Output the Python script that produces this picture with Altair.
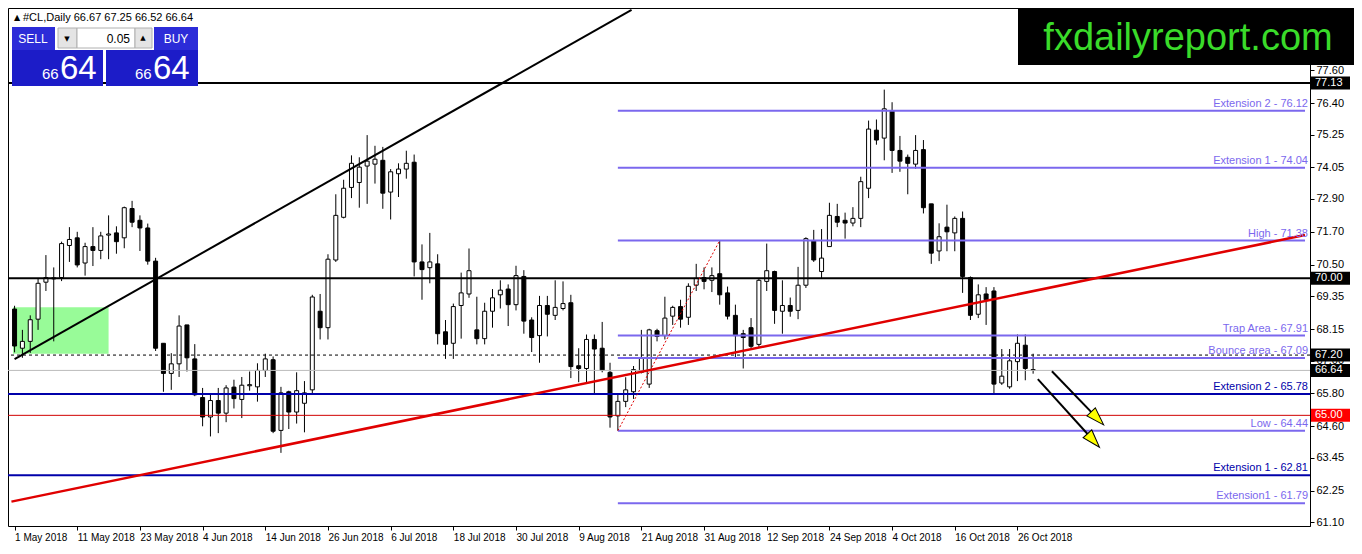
import altair as alt
import pandas as pd

# ---------------- data ----------------
opens = [68.88, 67.45, 67.70, 68.51, 69.86, 69.98, 70.03, 71.20, 71.48, 70.56,
         71.16, 71.02, 71.58, 71.66, 71.48, 72.55, 72.12, 71.84, 70.63, 67.63,
         66.53, 66.88, 68.30, 67.06, 65.65, 64.94, 65.54, 65.08, 66.03, 65.58,
         66.08, 66.04, 66.64, 67.03, 64.45, 65.86, 65.12, 65.44, 65.93, 68.80,
         68.20, 70.67, 72.23, 73.32, 73.50, 74.10, 74.17, 74.31, 73.15, 73.82,
         73.99, 74.24, 70.60, 70.39, 70.53, 68.05, 67.63, 69.01, 69.43, 68.12,
         67.80, 68.80, 69.40, 69.61, 69.04, 70.07, 68.48, 67.91, 69.01, 68.65,
         68.90, 69.11, 66.81, 66.71, 67.77, 67.45, 66.57, 64.98, 65.51, 65.86,
         66.57, 66.14, 68.09, 67.91, 68.62, 68.97, 68.58, 69.75, 70.03, 69.93,
         70.17, 69.47, 68.65, 67.98, 68.20, 67.59, 69.89, 70.25, 68.80, 69.01,
         68.83, 69.75, 71.38, 70.25, 71.16, 72.26, 72.12, 72.02, 72.19, 73.29,
         75.41, 75.12, 76.12, 74.67, 74.42, 74.17, 74.70, 72.72, 71.00, 71.87,
         71.66, 72.19, 70.03, 68.69, 69.43, 69.54, 66.18, 66.04, 66.96, 67.56,
         66.67]
highs = [69.00, 68.12, 68.65, 70.00, 70.85, 70.40, 71.34, 71.87, 71.70, 71.30,
         71.87, 71.70, 72.30, 71.90, 72.62, 72.83, 72.30, 72.00, 70.75, 67.63,
         67.27, 68.65, 68.30, 67.60, 66.00, 65.75, 66.00, 66.10, 66.30, 66.40,
         66.60, 66.90, 67.25, 67.15, 66.04, 65.90, 66.57, 66.25, 69.40, 69.43,
         70.88, 73.07, 73.60, 74.49, 74.42, 75.23, 74.84, 74.80, 73.99, 74.20,
         74.66, 74.52, 71.24, 71.66, 70.88, 68.48, 69.08, 70.21, 71.09, 69.33,
         69.11, 69.61, 69.93, 69.78, 70.46, 70.30, 68.58, 69.36, 69.36, 69.93,
         69.89, 69.40, 67.45, 67.95, 67.95, 68.41, 66.92, 65.75, 66.39, 66.80,
         68.12, 68.16, 68.16, 69.33, 69.00, 69.22, 69.82, 70.53, 70.40, 70.40,
         71.38, 69.70, 69.04, 68.12, 68.55, 70.00, 71.27, 70.28, 69.93, 69.30,
         70.42, 71.50, 71.77, 71.80, 72.76, 72.72, 72.40, 72.60, 73.71, 75.76,
         75.80, 76.89, 76.43, 75.20, 74.52, 75.23, 75.05, 72.72, 72.01, 72.69,
         72.26, 72.44, 70.07, 69.78, 69.68, 69.68, 67.42, 67.42, 67.95, 67.95,
         67.25]
lows = [67.30, 67.10, 67.28, 68.12, 69.54, 67.70, 69.90, 70.60, 70.40, 70.10,
        70.45, 70.70, 70.70, 70.90, 71.10, 71.87, 71.00, 70.50, 67.35, 65.86,
        65.93, 66.40, 66.60, 65.70, 64.60, 64.23, 64.35, 64.75, 65.25, 64.90,
        65.90, 65.50, 66.40, 64.35, 63.63, 64.50, 64.70, 64.38, 65.75, 67.77,
        67.77, 70.60, 72.19, 72.93, 72.58, 72.72, 73.46, 72.54, 72.15, 72.97,
        73.64, 70.07, 69.22, 69.82, 67.59, 67.06, 67.06, 67.80, 69.29, 67.59,
        67.59, 68.20, 68.90, 68.26, 68.83, 67.98, 67.31, 66.92, 67.88, 68.48,
        68.83, 66.36, 66.21, 66.21, 65.75, 66.57, 64.55, 64.44, 65.30, 65.60,
        66.53, 66.00, 67.70, 67.77, 68.30, 68.20, 68.30, 69.54, 69.60, 69.50,
        69.04, 68.50, 67.06, 66.71, 67.45, 67.50, 69.54, 68.34, 67.98, 68.60,
        68.51, 69.65, 70.60, 70.00, 71.16, 71.87, 71.45, 71.90, 71.87, 72.93,
        74.88, 74.31, 73.85, 73.89, 73.07, 74.00, 72.37, 70.53, 70.63, 70.99,
        70.99, 69.47, 68.48, 68.55, 68.30, 65.79, 66.11, 65.97, 66.25, 66.28,
        66.52]
closes = [67.53, 67.70, 68.49, 69.82, 70.03, 70.02, 71.27, 71.42, 70.49, 71.16,
          71.02, 71.55, 71.62, 71.34, 72.58, 72.05, 71.84, 70.63, 67.45, 66.53,
          66.88, 68.26, 67.10, 65.75, 64.94, 65.54, 65.08, 66.00, 65.61, 66.10,
          66.12, 66.64, 67.06, 64.42, 65.82, 65.12, 65.90, 65.82, 69.32, 68.20,
          70.70, 72.30, 73.29, 74.20, 74.06, 74.28, 74.35, 73.11, 73.89, 73.99,
          74.20, 70.60, 70.32, 70.60, 67.98, 67.59, 68.97, 69.47, 70.28, 67.80,
          68.80, 69.29, 69.57, 69.04, 70.10, 68.44, 67.84, 69.01, 68.69, 68.94,
          69.08, 66.78, 66.71, 67.77, 67.42, 66.64, 64.94, 65.51, 65.93, 66.67,
          67.10, 68.12, 67.88, 68.55, 68.94, 68.51, 69.71, 70.00, 69.89, 70.10,
          69.40, 68.62, 67.91, 67.84, 67.52, 69.93, 70.28, 68.83, 69.01, 68.80,
          69.75, 71.45, 70.67, 70.74, 72.30, 72.05, 72.02, 72.19, 73.53, 75.45,
          75.05, 76.19, 74.67, 74.28, 74.20, 74.67, 72.58, 70.92, 71.52, 71.70,
          72.19, 70.07, 68.65, 69.40, 69.22, 66.14, 66.43, 66.99, 67.63, 66.71,
          66.64]
bars = list(range(len(opens)))

tick_bars = [0, 8, 16, 24, 32, 40, 48, 56, 64, 72, 80, 88, 96, 104, 112, 120, 128]
tick_labels = ["1 May 2018", "11 May 2018", "23 May 2018", "4 Jun 2018", "14 Jun 2018",
               "26 Jun 2018", "6 Jul 2018", "18 Jul 2018", "30 Jul 2018", "9 Aug 2018",
               "21 Aug 2018", "31 Aug 2018", "12 Sep 2018", "24 Sep 2018", "4 Oct 2018",
               "16 Oct 2018", "26 Oct 2018"]
price_ticks = [61.10, 62.25, 63.45, 64.60, 65.80, 67.00, 68.15, 69.35, 70.50,
               71.70, 72.90, 74.05, 75.25, 76.40, 77.60]

black_levels = [77.13, 70.00]
dash_levels = [67.20]
bid_levels = [66.64]
blue_levels = [65.78, 62.81]
blue_labels = ["Extension 2 - 65.78", "Extension 1 - 62.81"]
red_levels = [65.00]
fib_start_bar = 77
fib_levels = [76.12, 74.04, 71.38, 67.91, 67.09, 64.44, 61.79]
fib_labels = ["Extension 2 - 76.12", "Extension 1 - 74.04", "High - 71.38",
              "Trap Area - 67.91", "Bounce area - 67.09", "Low - 64.44",
              "Extension1 - 61.79"]

black_trend_bars = [0, 78.75]
black_trend_prices = [67.05, 79.80]
red_trend_bars = [-0.4, 164.7]
red_trend_prices = [61.85, 71.58]
swing_bars = [77, 90]
swing_prices = [64.44, 71.38]

zone_bars = [-0.2, 12]
zone_prices = [68.95, 67.25]

arrow_start_bars = [132.4, 130.6]
arrow_start_prices = [66.61, 66.32]
arrow_end_bars = [138.2, 137.7]
arrow_end_prices = [64.89, 64.08]
arrow_angles = [136, 138]

black_tags = [77.13, 70.00, 67.20, 66.64]
red_tags = [65.00]

# ---------------- layout ----------------
W, H = 1302, 518
X_DOMAIN = [-0.2, 164.7]
Y_DOMAIN = [60.96, 79.87]
FONT = "Tahoma, 'Liberation Sans', sans-serif"
ARROW_HEAD = "M0,-1 L0.65,1 L-0.65,1 Z"

xs = alt.Scale(domain=X_DOMAIN, nice=False, zero=False)
ys = alt.Scale(domain=Y_DOMAIN, nice=False, zero=False)

label_expr = "[" + ",".join("'%s'" % s for s in tick_labels) + "][round(datum.value/8)]"

x_axis = alt.Axis(values=tick_bars, labelExpr=label_expr, labelAlign="left", title=None,
                  grid=False, domain=False, tickSize=4, tickColor="black", labelPadding=2,
                  labelFont=FONT, labelFontSize=10, labelColor="black", labelOverlap=False,
                  labelFlush=False)
y_axis = alt.Axis(orient="right", values=price_ticks, format=".2f", title=None, grid=False,
                  domain=True, domainColor="black", tickSize=4, tickColor="black",
                  labelPadding=2, labelFont=FONT, labelFontSize=11, labelColor="black",
                  labelOverlap=False, labelFlush=False)


def X(field):
    return alt.X(field, scale=xs, axis=x_axis)


def Y(field):
    return alt.Y(field, scale=ys, axis=y_axis)


df = pd.DataFrame({"bar": bars, "open": opens, "high": highs, "low": lows, "close": closes})
df["dir"] = ["up" if c >= o else "down" for o, c in zip(opens, closes)]

one = pd.DataFrame({"a": [0]})

layers = []

# green zone
zone = pd.DataFrame({"x": [zone_bars[0]], "x2": [zone_bars[1]],
                     "y": [zone_prices[0]], "y2": [zone_prices[1]]})
layers.append(alt.Chart(zone).mark_rect(color="#98FB98").encode(
    x=X("x:Q"), x2="x2:Q", y=Y("y:Q"), y2="y2:Q"))

# candles
layers.append(alt.Chart(df).mark_rule(color="black", strokeWidth=1).encode(
    x=X("bar:Q"), y=Y("low:Q"), y2="high:Q"))
layers.append(alt.Chart(df).mark_bar(width=4, stroke="black", strokeWidth=1).encode(
    x=X("bar:Q"), y=Y("open:Q"), y2="close:Q",
    fill=alt.Fill("dir:N", scale=alt.Scale(domain=["up", "down"], range=["white", "black"]),
                  legend=None)))


def hlines(levels, **kw):
    d = pd.DataFrame({"price": levels})
    return alt.Chart(d).mark_rule(**kw).encode(y=Y("price:Q"))


layers.append(hlines(bid_levels, color="#BBBBBB", strokeWidth=1))
layers.append(hlines(dash_levels, color="black", strokeWidth=1, strokeDash=[3, 3]))
layers.append(hlines(red_levels, color="#D00000", strokeWidth=1))
layers.append(hlines(blue_levels, color="#0000AA", strokeWidth=2))
layers.append(hlines(black_levels, color="black", strokeWidth=2))

fib = pd.DataFrame({"price": fib_levels, "label": fib_labels,
                    "start": [fib_start_bar] * len(fib_levels),
                    "end": [X_DOMAIN[1]] * len(fib_levels)})
layers.append(alt.Chart(fib).mark_rule(color="#7B68EE", strokeWidth=2).encode(
    x=X("start:Q"), x2="end:Q", y=Y("price:Q")))


# trend lines
def seg(bx, py, **kw):
    d = pd.DataFrame({"bar": bx, "price": py})
    return alt.Chart(d).mark_line(clip=True, **kw).encode(x=X("bar:Q"), y=Y("price:Q"))


layers.append(seg(black_trend_bars, black_trend_prices, color="black", strokeWidth=2))
layers.append(seg(red_trend_bars, red_trend_prices, color="#E00000", strokeWidth=2.5))
layers.append(seg(swing_bars, swing_prices, color="#E00000", strokeWidth=1, strokeDash=[2, 2]))

# level labels
layers.append(alt.Chart(fib).mark_text(align="right", baseline="bottom", dy=-2,
                                       font=FONT, fontSize=11, color="#7B68EE").encode(
    x=alt.value(W - 2), y=Y("price:Q"), text="label:N"))
blue_df = pd.DataFrame({"price": blue_levels, "label": blue_labels})
layers.append(alt.Chart(blue_df).mark_text(align="right", baseline="bottom", dy=-2,
                                           font=FONT, fontSize=11, color="#0000AA").encode(
    x=alt.value(W - 2), y=Y("price:Q"), text="label:N"))

# arrows
arr = pd.DataFrame({"x": arrow_start_bars, "y": arrow_start_prices,
                    "x2": arrow_end_bars, "y2": arrow_end_prices, "ang": arrow_angles})
layers.append(alt.Chart(arr).mark_rule(color="black", strokeWidth=2).encode(
    x=X("x:Q"), x2="x2:Q", y=Y("y:Q"), y2="y2:Q"))
layers.append(alt.Chart(arr).mark_point(shape=ARROW_HEAD, filled=True, fill="#FFFF00",
                                        stroke="black", strokeWidth=1, size=324,
                                        opacity=1).encode(
    x=X("x2:Q"), y=Y("y2:Q"), angle=alt.Angle("ang:Q", scale=None)))

# price tags on the right axis
half = 6.5 * (Y_DOMAIN[1] - Y_DOMAIN[0]) / H


def tags(levels, color):
    d = pd.DataFrame({"price": levels})
    d["top"] = d["price"] + half
    d["bot"] = d["price"] - half
    r = alt.Chart(d).mark_rect(color=color).encode(
        x=alt.value(W + 1), x2=alt.value(W + 40), y=Y("top:Q"), y2="bot:Q")
    t = alt.Chart(d).mark_text(align="left", baseline="middle", font=FONT, fontSize=11,
                               color="white").encode(
        x=alt.value(W + 5), y=Y("price:Q"), text=alt.Text("price:Q", format=".2f"))
    return [r, t]


layers += tags(black_tags, "black")
layers += tags(red_tags, "#FF0000")


# ---------------- overlays (header, trade panel, logo) ----------------
def box(x1, y1, x2, y2, color, stroke=None):
    kw = {"color": color}
    if stroke:
        kw.update(stroke=stroke, strokeWidth=1)
    return alt.Chart(one).mark_rect(**kw).encode(
        x=alt.value(x1), x2=alt.value(x2), y=alt.value(y1), y2=alt.value(y2))


def txt(x, y, s, size, color="black", align="left", baseline="middle", font=FONT):
    return alt.Chart(one).mark_text(text=s, fontSize=size, color=color, align=align,
                                    baseline=baseline, font=font).encode(
        x=alt.value(x), y=alt.value(y))


header = "#CL,Daily  %.2f %.2f %.2f %.2f" % (opens[-1], highs[-1], lows[-1], closes[-1])
bid_big = "%.2f" % closes[-1]
layers += [
    txt(6, 10, "▲", 8, font="DejaVu Sans"),
    txt(15, 10, header, 11),
    box(4, 19, 95, 78, "#1C1CC8"),
    box(98, 19, 190, 78, "#1C1CC8"),
    box(4, 19, 47, 42, "#2C2CD8"),
    box(146, 19, 190, 42, "#2C2CD8"),
    box(47, 17, 146, 42, "white"),
    box(50, 20, 69, 40, "#E4E4E4", "#B0B0B0"),
    box(69, 20, 127, 40, "white", "#B0B0B0"),
    box(127, 20, 144, 40, "#E4E4E4", "#B0B0B0"),
    txt(25, 31, "SELL", 12, "white", "center"),
    txt(168, 31, "BUY", 12, "white", "center"),
    txt(122, 31, "0.05", 12, "black", "right"),
    txt(59, 31, "▼", 7, "black", "center", font="DejaVu Sans"),
    txt(135, 30, "▲", 7, "black", "center", font="DejaVu Sans"),
    txt(34, 71, bid_big[:2], 15, "white", "left", "alphabetic"),
    txt(52, 71, bid_big[3:], 33, "white", "left", "alphabetic"),
    txt(127, 71, bid_big[:2], 15, "white", "left", "alphabetic"),
    txt(145, 71, bid_big[3:], 33, "white", "left", "alphabetic"),
    box(1010, 0, W + 44, 57, "black"),
    txt(1180, 42, "fxdailyreport.com", 38, "#3ADB2A", "center", "alphabetic",
        font="'Liberation Sans', Arial, sans-serif"),
]

chart = alt.layer(*layers).properties(
    width=W, height=H,
    autosize=alt.AutoSizeParams(type="none"),
    padding={"left": 0, "top": 0, "right": 44, "bottom": 20},
    background="white",
).configure_view(stroke="black", strokeWidth=1)

chart.save("out.html", embed_options={"renderer": "svg", "actions": False})
